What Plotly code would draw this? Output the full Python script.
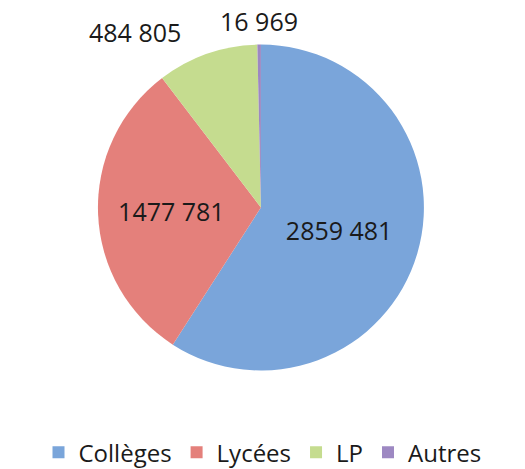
import plotly.graph_objects as go

categories = ["Collèges", "Lycées", "LP", "Autres"]
values = [2859481, 1477781, 484805, 16969]
colors = ["#7aa5da", "#e4807b", "#c5dc8f", "#9d88c2"]
text_positions = ["inside", "inside", "none", "none"]

labels_text = [f"{v // 1000} {v % 1000:03d}" if v >= 1000 else str(v) for v in values]

fig = go.Figure(
    go.Pie(
        labels=categories,
        values=values,
        text=labels_text,
        textinfo="text",
        textposition=text_positions,
        insidetextorientation="horizontal",
        textfont=dict(family="Open Sans", size=25, color="#1a1a1a"),
        marker=dict(colors=colors, line=dict(width=0)),
        sort=False,
        direction="clockwise",
        rotation=0,
        domain=dict(x=[0, 0.994], y=[0.21, 0.905]),
        hoverinfo="label+value+percent",
    )
)

# outside labels for the two small slices
fig.add_annotation(text=labels_text[2], x=0.257, y=0.932, xref="paper", yref="paper",
                   xanchor="center", yanchor="middle", showarrow=False,
                   font=dict(family="Open Sans", size=25, color="#1a1a1a"))
fig.add_annotation(text=labels_text[3], x=0.493, y=0.955, xref="paper", yref="paper",
                   xanchor="center", yanchor="middle", showarrow=False,
                   font=dict(family="Open Sans", size=25, color="#1a1a1a"))

fig.update_layout(
    width=525,
    height=469,
    paper_bgcolor="white",
    plot_bgcolor="white",
    margin=dict(l=0, r=0, t=0, b=0, autoexpand=False),
    showlegend=True,
    legend=dict(
        orientation="h",
        x=0.5,
        xanchor="center",
        y=0.035,
        yanchor="middle",
        font=dict(family="Open Sans", size=24, color="#1a1a1a"),
        itemwidth=30,
        traceorder="normal",
    ),
)

fig.write_html("out.html", config={"displayModeBar": False},
               post_script="document.body.style.margin='0';")
